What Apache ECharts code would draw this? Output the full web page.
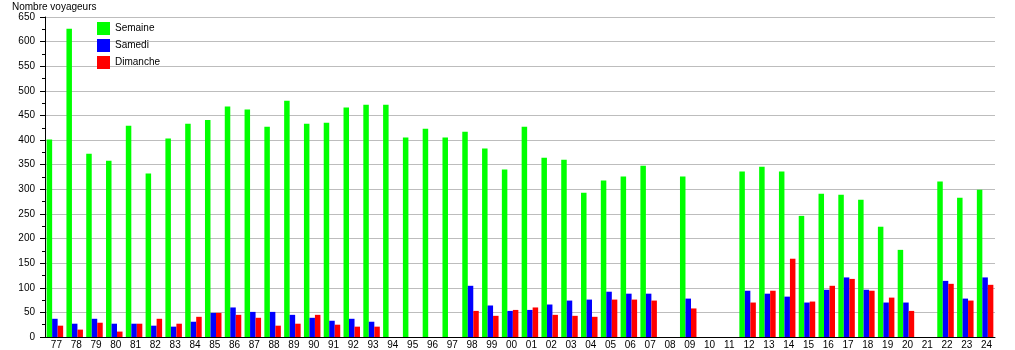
<!DOCTYPE html>
<html>
<head>
<meta charset="utf-8">
<script src="https://cdn.jsdelivr.net/npm/echarts@6/dist/echarts.min.js"></script>
<style>html,body{margin:0;padding:0;background:#fff;}#c{width:1015px;height:350px;}</style>
</head>
<body>
<div id="c"></div>
<script>
const categories = ['77','78','79','80','81','82','83','84','85','86','87','88','89','90','91','92','93','94','95','96','97','98','99','00','01','02','03','04','05','06','07','08','09','10','11','12','13','14','15','16','17','18','19','20','21','22','23','24'];
const semaine = [401,626,372,358,429,332,403,433,441,468,462,427,480,433,435,466,472,472,405,423,405,417,383,340,427,364,360,293,318,326,348,null,326,null,null,336,346,336,246,291,289,279,224,177,null,316,283,299];
const samedi = [37,27,37,27,27,23,21,31,49,60,51,51,45,39,33,37,31,null,null,null,null,104,64,53,55,66,74,76,92,88,88,null,78,null,null,94,88,82,70,96,121,96,70,70,null,114,78,121];
const dimanche = [23,15,29,11,27,37,27,41,49,45,39,23,27,45,25,21,21,null,null,null,null,53,43,55,60,45,43,41,76,76,74,null,58,null,null,70,94,159,72,104,118,94,80,53,null,108,74,106];
const yTicks = {min:0, max:650, interval:50};

const chart = echarts.init(document.getElementById('c'), null, {renderer:'canvas'});
const font = 'Liberation Sans, Arial, sans-serif';
chart.setOption({
  animation:false,
  textStyle:{fontFamily:font},
  title:{text:'Nombre voyageurs', left:12, top:2, padding:0, textStyle:{fontSize:10, fontWeight:'normal', color:'#000', fontFamily:font}},
  legend:{orient:'vertical', left:97, top:22, padding:0, itemWidth:13, itemHeight:13, itemGap:4, icon:'rect',
    textStyle:{fontSize:10, color:'#000', fontFamily:font},
    data:['Semaine','Samedi','Dimanche']},
  grid:{left:45, right:20, top:17, bottom:13, containLabel:false},
  xAxis:{type:'category', data:categories,
    axisLine:{show:true, lineStyle:{color:'#000', width:1}},
    axisTick:{show:false},
    axisLabel:{interval:0, fontSize:10, color:'#000', margin:3, fontFamily:font, padding:[0,0,0,3]},
    splitLine:{show:false}},
  yAxis:{type:'value', min:yTicks.min, max:yTicks.max, interval:yTicks.interval,
    axisLine:{show:true, lineStyle:{color:'#000', width:1}},
    axisTick:{show:true, length:5, lineStyle:{color:'#000'}},
    minorTick:{show:true, splitNumber:2, length:3, lineStyle:{color:'#000'}},
    axisLabel:{fontSize:10, color:'#000', margin:10, fontFamily:font},
    splitLine:{show:true, lineStyle:{color:'#bdbdbd', width:1}}},
  series:[
    {name:'Semaine', type:'bar', data:semaine, itemStyle:{color:'#00ff00'}, barWidth:5.5, barGap:'0%'},
    {name:'Samedi', type:'bar', data:samedi, itemStyle:{color:'#0000ff'}, barWidth:5.5, barGap:'0%'},
    {name:'Dimanche', type:'bar', data:dimanche, itemStyle:{color:'#ff0000'}, barWidth:5.5, barGap:'0%'}
  ]
});
</script>
</body>
</html>
